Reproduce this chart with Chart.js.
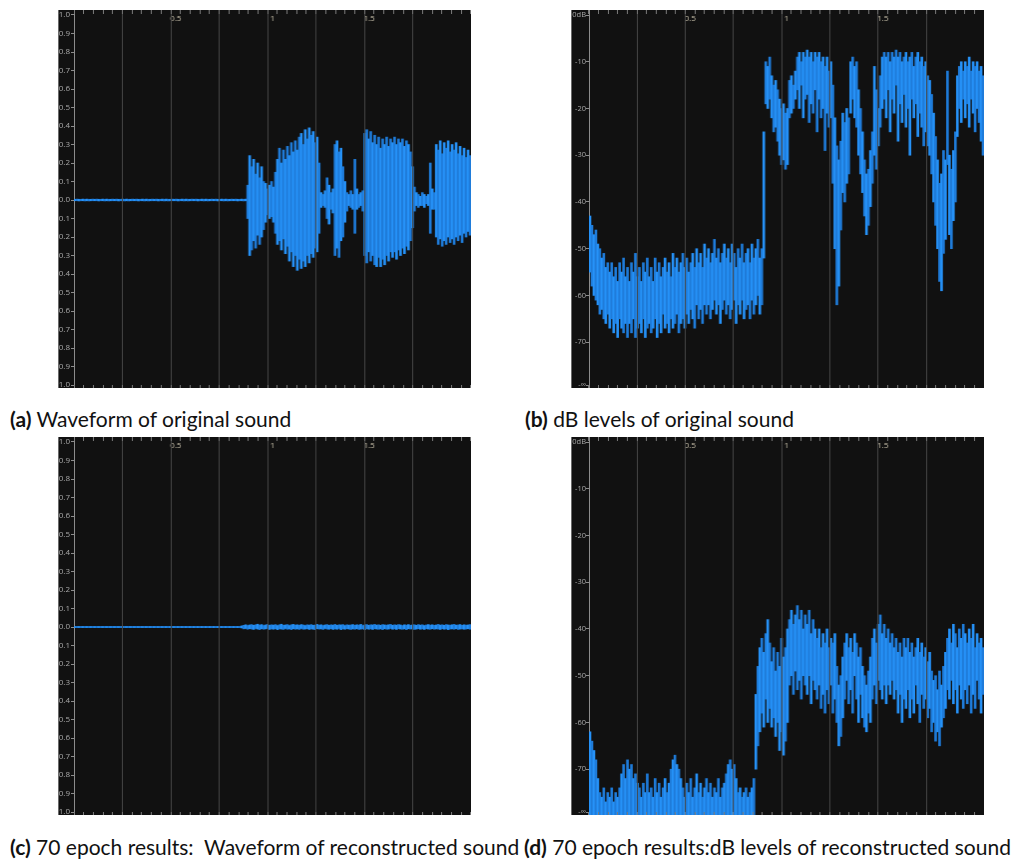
<!DOCTYPE html>
<html>
<head>
<meta charset="utf-8">
<script src="https://cdn.jsdelivr.net/npm/chart.js@4"></script>
<style>
  body { margin: 0; background: #fff; width: 1016px; height: 861px; position: relative; overflow: hidden; font-family: Lato, sans-serif; }
  canvas { position: absolute; background: #111; border-left: 1px solid #6a6a6a; }
  .cap { position: absolute; font-size: 21px; line-height: 1.2; color: #111; white-space: nowrap; }
  .cap b { font-weight: 700; }
</style>
</head>
<body>
<canvas id="ca" width="413" height="378" style="left:58px;top:10px"></canvas>
<canvas id="cb" width="413" height="378" style="left:571px;top:10px"></canvas>
<canvas id="cc" width="413" height="378" style="left:58px;top:437px"></canvas>
<canvas id="cd" width="413" height="378" style="left:571px;top:437px"></canvas>

<div class="cap" style="left:10px;top:406px"><b>(a)</b> Waveform of original sound</div>
<div class="cap" style="left:525px;top:406px"><b>(b)</b> dB levels of original sound</div>
<div class="cap" style="left:10px;top:834px"><b>(c)</b> 70 epoch results:&nbsp; Waveform of reconstructed sound</div>
<div class="cap" style="left:524px;top:834px"><b>(d)</b> 70 epoch results:dB levels of reconstructed sound</div>

<script>
// one bin = 0.01 s, 200 bins = 2 s
const binSeconds = 0.01;

// (a) original waveform, peak top / bottom per bin
const ampHiA = [
  0.004,0.005,0.004,0.004,0.005,0.004,0.005,0.004,0.004,0.005,
  0.004,0.005,0.004,0.004,0.005,0.004,0.005,0.004,0.004,0.005,
  0.004,0.005,0.004,0.004,0.005,0.004,0.005,0.004,0.004,0.005,
  0.004,0.005,0.004,0.004,0.005,0.004,0.005,0.004,0.004,0.005,
  0.004,0.005,0.004,0.004,0.005,0.004,0.005,0.004,0.004,0.005,
  0.004,0.005,0.004,0.004,0.005,0.004,0.005,0.004,0.004,0.005,
  0.004,0.005,0.004,0.004,0.005,0.004,0.005,0.004,0.004,0.005,
  0.004,0.005,0.004,0.004,0.005,0.004,0.005,0.004,0.004,0.005,
  0.004,0.005,0.004,0.004,0.005,0.004,0.005,0.08,0.24,0.18,
  0.22,0.14,0.20,0.12,0.18,0.10,0.09,0.06,0.08,0.10,
  0.07,0.15,0.22,0.28,0.20,0.27,0.22,0.29,0.24,0.31,
  0.26,0.32,0.27,0.34,0.36,0.30,0.38,0.33,0.39,0.35,
  0.37,0.31,0.34,0.20,0.04,0.03,0.05,0.12,0.08,0.04,
  0.06,0.30,0.32,0.26,0.28,0.18,0.10,0.04,0.03,0.05,
  0.03,0.22,0.06,0.03,0.04,0.05,0.36,0.38,0.33,0.37,
  0.31,0.35,0.30,0.34,0.28,0.33,0.30,0.34,0.29,0.33,
  0.31,0.34,0.30,0.33,0.31,0.33,0.29,0.32,0.30,0.26,
  0.18,0.07,0.04,0.03,0.02,0.04,0.03,0.02,0.03,0.20,
  0.06,0.04,0.30,0.27,0.32,0.25,0.31,0.28,0.32,0.26,
  0.30,0.27,0.31,0.25,0.29,0.24,0.28,0.23,0.27,0.24
];
const ampLoA = [
  -0.004,-0.004,-0.005,-0.004,-0.004,-0.005,-0.004,-0.005,-0.004,-0.004,
  -0.004,-0.004,-0.005,-0.004,-0.004,-0.005,-0.004,-0.005,-0.004,-0.004,
  -0.004,-0.004,-0.005,-0.004,-0.004,-0.005,-0.004,-0.005,-0.004,-0.004,
  -0.004,-0.004,-0.005,-0.004,-0.004,-0.005,-0.004,-0.005,-0.004,-0.004,
  -0.004,-0.004,-0.005,-0.004,-0.004,-0.005,-0.004,-0.005,-0.004,-0.004,
  -0.004,-0.004,-0.005,-0.004,-0.004,-0.005,-0.004,-0.005,-0.004,-0.004,
  -0.004,-0.004,-0.005,-0.004,-0.004,-0.005,-0.004,-0.005,-0.004,-0.004,
  -0.004,-0.004,-0.005,-0.004,-0.004,-0.005,-0.004,-0.005,-0.004,-0.004,
  -0.004,-0.004,-0.005,-0.004,-0.004,-0.005,-0.004,-0.10,-0.30,-0.27,
  -0.22,-0.26,-0.19,-0.24,-0.20,-0.16,-0.12,-0.08,-0.10,-0.09,
  -0.12,-0.18,-0.24,-0.22,-0.27,-0.21,-0.29,-0.25,-0.33,-0.28,
  -0.36,-0.30,-0.38,-0.32,-0.37,-0.33,-0.36,-0.30,-0.34,-0.29,
  -0.31,-0.26,-0.28,-0.18,-0.04,-0.03,-0.04,-0.10,-0.13,-0.05,
  -0.07,-0.30,-0.26,-0.31,-0.22,-0.20,-0.12,-0.06,-0.03,-0.04,
  -0.05,-0.18,-0.05,-0.04,-0.03,-0.06,-0.30,-0.34,-0.28,-0.33,
  -0.30,-0.35,-0.36,-0.31,-0.36,-0.32,-0.35,-0.30,-0.33,-0.28,
  -0.31,-0.28,-0.32,-0.27,-0.30,-0.26,-0.29,-0.25,-0.27,-0.22,
  -0.15,-0.06,-0.03,-0.04,-0.03,-0.03,-0.04,-0.02,-0.03,-0.18,
  -0.05,-0.05,-0.20,-0.24,-0.21,-0.25,-0.22,-0.24,-0.20,-0.23,
  -0.21,-0.24,-0.20,-0.22,-0.19,-0.23,-0.18,-0.20,-0.17,-0.19
];

// (b) original dB levels, top / bottom per bin
const dbHiB = [
  -43,-45,-47,-46,-49,-50,-52,-51,-54,-53,
  -55,-53,-56,-54,-57,-53,-55,-52,-56,-54,
  -57,-53,-55,-51,-56,-54,-57,-53,-55,-52,
  -56,-54,-57,-52,-55,-53,-56,-54,-52,-55,
  -53,-56,-51,-54,-52,-55,-53,-51,-54,-52,
  -55,-53,-51,-54,-50,-53,-51,-54,-49,-52,
  -50,-53,-51,-48,-52,-50,-53,-51,-49,-52,
  -50,-53,-49,-51,-54,-50,-52,-49,-53,-51,
  -50,-53,-49,-52,-50,-48,-52,-50,-25,-10,
  -11,-9,-13,-15,-14,-16,-18,-20,-19,-21,
  -20,-14,-13,-15,-12,-9,-8,-10,-8,-9,
  -7.5,-9,-8,-10,-8,-9,-8,-10,-9,-11,
  -9,-12,-10,-15,-22,-28,-31,-27,-21,-23,
  -20,-22,-10,-9,-11,-10,-16,-20,-25,-31,
  -34,-33,-29,-25,-11,-16,-20,-13,-9,-8,
  -9,-8,-10,-8,-9,-7.5,-9,-8,-10,-9,
  -8,-10,-9,-8,-11,-9,-8,-10,-9,-11,
  -10,-13,-14,-17,-21,-26,-31,-36,-34,-29,
  -31,-12,-30,-33,-29,-25,-13,-11,-10,-12,
  -10,-11,-9,-12,-10,-11,-10,-12,-11,-13
];
const dbLoB = [
  -55,-58,-60,-61,-62,-64,-63,-65,-66,-64,
  -67,-65,-68,-66,-69,-65,-67,-68,-66,-69,
  -66,-68,-65,-69,-67,-66,-68,-65,-69,-67,
  -66,-68,-67,-65,-69,-66,-68,-64,-67,-66,
  -68,-65,-67,-66,-64,-68,-66,-65,-67,-64,
  -66,-63,-65,-67,-62,-65,-63,-66,-62,-64,
  -62,-65,-63,-61,-64,-62,-66,-63,-61,-64,
  -62,-65,-63,-61,-66,-62,-64,-61,-65,-63,
  -62,-65,-61,-64,-62,-60,-64,-62,-52,-19,
  -20,-18,-22,-25,-24,-27,-30,-32,-31,-33,
  -32,-22,-21,-20,-18,-16,-20,-15,-22,-18,
  -17,-23,-19,-21,-16,-25,-18,-22,-20,-29,
  -21,-24,-22,-36,-50,-62,-58,-46,-38,-40,
  -36,-34,-21,-18,-22,-24,-30,-34,-38,-43,
  -47,-45,-41,-36,-30,-33,-28,-24,-20,-18,
  -22,-16,-25,-18,-21,-15,-27,-19,-23,-17,
  -24,-20,-30,-18,-22,-19,-26,-21,-24,-28,
  -25,-28,-30,-34,-40,-45,-50,-57,-59,-51,
  -48,-32,-47,-50,-44,-40,-26,-20,-23,-18,
  -22,-19,-24,-18,-21,-25,-20,-23,-27,-30
];

// (c) reconstructed waveform
const ampHiC = [
  0.003,0.003,0.003,0.003,0.003,0.003,0.003,0.003,0.003,0.003,
  0.003,0.003,0.003,0.003,0.003,0.003,0.003,0.003,0.003,0.003,
  0.003,0.003,0.003,0.003,0.003,0.003,0.003,0.003,0.003,0.003,
  0.003,0.003,0.003,0.003,0.003,0.003,0.003,0.003,0.003,0.003,
  0.003,0.003,0.003,0.003,0.003,0.003,0.003,0.003,0.003,0.003,
  0.003,0.003,0.003,0.003,0.003,0.003,0.003,0.003,0.003,0.003,
  0.003,0.003,0.003,0.003,0.003,0.003,0.003,0.003,0.003,0.003,
  0.003,0.003,0.003,0.003,0.003,0.003,0.003,0.003,0.003,0.003,
  0.003,0.003,0.003,0.003,0.006,0.009,0.012,0.008,0.011,0.013,
  0.009,0.012,0.015,0.010,0.013,0.008,0.011,0.014,0.009,0.012,
  0.010,0.013,0.008,0.012,0.015,0.009,0.011,0.013,0.008,0.012,
  0.014,0.010,0.012,0.009,0.013,0.011,0.008,0.012,0.010,0.013,
  0.009,0.011,0.014,0.010,0.012,0.008,0.011,0.013,0.009,0.012,
  0.010,0.014,0.009,0.012,0.011,0.013,0.008,0.012,0.010,0.011,
  0.013,0.009,0.012,0.010,0.014,0.008,0.011,0.013,0.009,0.012,
  0.011,0.014,0.010,0.012,0.009,0.013,0.011,0.010,0.012,0.014,
  0.009,0.012,0.010,0.013,0.011,0.008,0.012,0.010,0.013,0.009,
  0.011,0.012,0.009,0.013,0.010,0.012,0.008,0.011,0.013,0.010,
  0.012,0.009,0.011,0.014,0.010,0.012,0.009,0.013,0.011,0.010,
  0.012,0.014,0.010,0.011,0.013,0.009,0.012,0.010,0.011,0.013
];
const ampLoC = [
  -0.003,-0.003,-0.003,-0.003,-0.003,-0.003,-0.003,-0.003,-0.003,-0.003,
  -0.003,-0.003,-0.003,-0.003,-0.003,-0.003,-0.003,-0.003,-0.003,-0.003,
  -0.003,-0.003,-0.003,-0.003,-0.003,-0.003,-0.003,-0.003,-0.003,-0.003,
  -0.003,-0.003,-0.003,-0.003,-0.003,-0.003,-0.003,-0.003,-0.003,-0.003,
  -0.003,-0.003,-0.003,-0.003,-0.003,-0.003,-0.003,-0.003,-0.003,-0.003,
  -0.003,-0.003,-0.003,-0.003,-0.003,-0.003,-0.003,-0.003,-0.003,-0.003,
  -0.003,-0.003,-0.003,-0.003,-0.003,-0.003,-0.003,-0.003,-0.003,-0.003,
  -0.003,-0.003,-0.003,-0.003,-0.003,-0.003,-0.003,-0.003,-0.003,-0.003,
  -0.003,-0.003,-0.003,-0.003,-0.005,-0.010,-0.008,-0.012,-0.009,-0.011,
  -0.013,-0.008,-0.011,-0.014,-0.009,-0.012,-0.010,-0.008,-0.013,-0.010,
  -0.012,-0.009,-0.014,-0.010,-0.011,-0.013,-0.008,-0.012,-0.010,-0.014,
  -0.009,-0.012,-0.010,-0.013,-0.008,-0.012,-0.011,-0.009,-0.013,-0.010,
  -0.012,-0.014,-0.009,-0.011,-0.010,-0.013,-0.008,-0.011,-0.012,-0.009,
  -0.013,-0.010,-0.012,-0.008,-0.014,-0.010,-0.012,-0.009,-0.011,-0.013,
  -0.010,-0.012,-0.009,-0.013,-0.011,-0.010,-0.014,-0.009,-0.012,-0.010,
  -0.013,-0.009,-0.011,-0.012,-0.010,-0.014,-0.009,-0.012,-0.011,-0.008,
  -0.012,-0.010,-0.013,-0.009,-0.011,-0.012,-0.010,-0.014,-0.009,-0.011,
  -0.010,-0.013,-0.011,-0.009,-0.012,-0.010,-0.013,-0.009,-0.011,-0.012,
  -0.009,-0.012,-0.010,-0.011,-0.013,-0.009,-0.012,-0.010,-0.014,-0.011,
  -0.010,-0.012,-0.009,-0.013,-0.011,-0.010,-0.012,-0.011,-0.009,-0.012
];

// (d) reconstructed dB levels
const dbHiD = [
  -62,-64,-66,-68,-72,-75,-76,-74,-77,-75,
  -76,-74,-77,-75,-76,-74,-71,-69,-72,-68,
  -70,-69,-72,-71,-73,-74,-76,-73,-75,-71,
  -75,-74,-76,-72,-75,-73,-76,-74,-72,-75,
  -73,-70,-68,-67,-69,-70,-72,-74,-76,-73,
  -75,-72,-76,-74,-71,-75,-73,-76,-74,-72,
  -75,-73,-76,-74,-75,-72,-76,-74,-73,-71,
  -69,-68,-70,-69,-72,-75,-74,-76,-75,-74,
  -76,-75,-74,-72,-54,-48,-44,-42,-45,-41,
  -38,-43,-47,-44,-49,-45,-48,-42,-46,-44,
  -40,-38,-36,-39,-37,-35,-38,-36,-40,-37,
  -39,-36,-41,-38,-40,-42,-40,-44,-41,-43,
  -40,-44,-42,-43,-41,-48,-52,-50,-46,-43,
  -41,-44,-42,-45,-41,-43,-46,-44,-48,-50,
  -52,-49,-46,-42,-40,-43,-39,-37,-41,-39,
  -42,-40,-43,-41,-44,-42,-45,-43,-46,-42,
  -44,-42,-45,-43,-46,-44,-42,-45,-43,-46,
  -44,-47,-45,-49,-51,-50,-53,-49,-52,-48,
  -45,-42,-40,-43,-39,-41,-44,-40,-42,-39,
  -41,-43,-40,-42,-39,-44,-41,-43,-42,-44
];
const dbLoD = [
  -80,-80,-80,-80,-80,-80,-80,-80,-80,-80,
  -80,-80,-80,-80,-80,-80,-80,-80,-80,-80,
  -80,-80,-80,-80,-80,-80,-80,-80,-80,-80,
  -80,-80,-80,-80,-80,-80,-80,-80,-80,-80,
  -80,-80,-80,-80,-80,-80,-80,-80,-80,-80,
  -80,-80,-80,-80,-80,-80,-80,-80,-80,-80,
  -80,-80,-80,-80,-80,-80,-80,-80,-80,-80,
  -80,-80,-80,-80,-80,-80,-80,-80,-80,-80,
  -80,-80,-80,-80,-70,-65,-62,-58,-61,-55,
  -60,-57,-61,-59,-63,-60,-66,-62,-67,-64,
  -60,-52,-50,-54,-49,-53,-51,-55,-50,-52,
  -54,-50,-56,-51,-53,-55,-52,-57,-54,-58,
  -53,-56,-52,-58,-55,-60,-65,-63,-59,-55,
  -51,-56,-53,-58,-50,-55,-60,-54,-59,-61,
  -62,-58,-60,-55,-52,-56,-51,-53,-55,-52,
  -56,-52,-54,-51,-55,-53,-58,-54,-60,-55,
  -57,-53,-59,-55,-58,-52,-56,-60,-54,-57,
  -55,-59,-57,-62,-60,-64,-62,-65,-61,-59,
  -57,-53,-55,-51,-56,-53,-58,-52,-55,-57,
  -53,-56,-52,-58,-54,-57,-51,-55,-58,-54
];

// axis ticks
const ampTicks = [-1, -0.9, -0.8, -0.7, -0.6, -0.5, -0.4, -0.3, -0.2, -0.1, 0,
                  0.1, 0.2, 0.3, 0.4, 0.5, 0.6, 0.7, 0.8, 0.9, 1];
const dbTicks = [0, -10, -20, -30, -40, -50, -60, -70, -79.2];
const dbTickLabels = ['0dB', '-10', '-20', '-30', '-40', '-50', '-60', '-70', '-\u221e'];
const timeLabelValues = [0.5, 1, 1.5];
const timeLabels = ['0.5', '1', '1.5'];
const minorStep = 0.05;
const gridStep = 0.25;

const times = ampHiA.map((_, i) => +(i * binSeconds).toFixed(2));

const bright = 'rgb(38,146,248)';
const dim = 'rgb(31,124,218)';

function near(a, b) { return Math.abs(a - b) < 1e-6; }

function timeAxis(pos) {
  const top = pos === 'top';
  return {
    type: 'linear', position: pos, min: 0, max: 2,
    afterBuildTicks: s => {
      s.ticks = [];
      for (let k = 0; k <= 40; k++) s.ticks.push({ value: k * minorStep });
    },
    afterFit: s => { s.height = 0; s.paddingLeft = 0; s.paddingRight = 0; },
    border: { display: false },
    grid: {
      drawOnChartArea: top,
      z: 1,
      color: c => {
        const v = c.tick ? c.tick.value : 0;
        const q = v / gridStep;
        return (v > 0 && v < 2 && near(q, Math.round(q))) ? '#474747' : 'rgba(0,0,0,0)';
      },
      tickColor: '#7c7c7c',
      tickLength: top ? -4 : -3
    },
    ticks: {
      display: top, mirror: true, padding: 4, autoSkip: false, maxRotation: 0, minRotation: 0,
      color: '#cbc3ad', font: { family: 'Open Sans', size: 8 },
      callback: v => {
        const k = timeLabelValues.findIndex(t => near(t, v));
        return k < 0 ? '' : timeLabels[k];
      }
    }
  };
}

function valueAxis(kind, w) {
  const amp = kind === 'amp';
  return {
    type: 'linear', position: 'left',
    min: amp ? -1.016 : -79.8,
    max: amp ? 1.027 : 1.07,
    afterBuildTicks: s => {
      s.ticks = (amp ? ampTicks : dbTicks).map(v => ({ value: v }));
    },
    afterFit: s => { s.width = w; s.paddingTop = 0; s.paddingBottom = 0; },
    border: { color: '#8c8c8c' },
    grid: { drawOnChartArea: false, tickLength: 3, tickColor: '#8c8c8c' },
    ticks: {
      padding: amp ? 1 : 0, autoSkip: false, color: '#a9a9a9',
      font: { family: 'Open Sans', size: amp ? 8 : 7.5 },
      callback: (v, i) => amp ? Math.abs(v).toFixed(1) : dbTickLabels[i]
    }
  };
}

function panel(id, hi, lo, kind, w) {
  new Chart(document.getElementById(id), {
    type: 'bar',
    data: {
      labels: times,
      datasets: [{
        data: hi.map((h, i) => [lo[i], h]),
        xAxisID: 'x', yAxisID: 'y',
        backgroundColor: c => c.dataIndex % 2 ? dim : bright,
        borderWidth: 0,
        barPercentage: 1,
        categoryPercentage: 1
      }]
    },
    options: {
      responsive: false,
      animation: false,
      events: [],
      layout: { padding: 0 },
      plugins: { legend: { display: false }, tooltip: { enabled: false } },
      scales: {
        x: { type: 'category', display: false, offset: true },
        xt: timeAxis('top'),
        xb: timeAxis('bottom'),
        y: valueAxis(kind, w)
      }
    }
  });
}

panel('ca', ampHiA, ampLoA, 'amp', 15);
panel('cb', dbHiB, dbLoB, 'db', 17);
panel('cc', ampHiC, ampLoC, 'amp', 15);
panel('cd', dbHiD, dbLoD, 'db', 17);
</script>
</body>
</html>
